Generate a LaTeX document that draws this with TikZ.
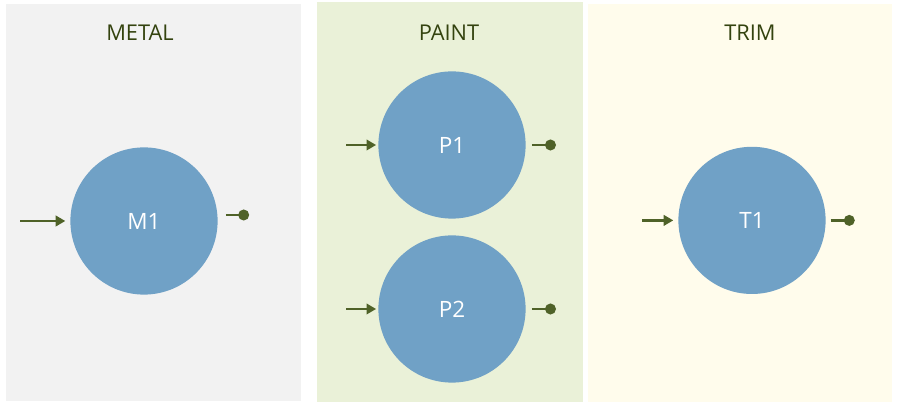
\documentclass[tikz,border=0pt]{standalone}
\usepackage{fontspec}
\setmainfont{Open Sans}
\usepackage{xcolor}
\usetikzlibrary{arrows.meta}

\definecolor{metalbg}{HTML}{F2F2F2}
\definecolor{paintbg}{HTML}{EAF1D8}
\definecolor{trimbg}{HTML}{FFFCEC}
\definecolor{stationblue}{HTML}{70A1C6}
\definecolor{olive}{HTML}{4F6228}
\definecolor{titleolive}{HTML}{34430F}

\begin{document}
\begin{tikzpicture}[
    panel/.style={fill=#1, draw=none},
    title/.style={text=titleolive, font=\fontsize{15.5}{18}\selectfont},
    station/.style={circle, fill=stationblue, draw=none, minimum size=3.68cm,
        inner sep=0pt, text=white, font=\fontsize{16}{18}\selectfont},
    feed/.style={olive, line width=2.1pt, -{Triangle[length=2.4mm,width=2.6mm]}},
    exit/.style={olive, line width=2.1pt, -{Circle[length=2.7mm]}}
]
        \useasboundingbox (0,0) rectangle (22.45,10.2);

        % departments
        \fill[panel=metalbg] (0.15,0.175) rectangle (7.525,10.1);
        \fill[panel=paintbg] (7.925,0.15) rectangle (14.575,10.15);
        \fill[panel=trimbg] (14.7,0.15) rectangle (22.3,10.1);

        \node[title] (metal) at (3.5,9.375) {METAL};
        \node[title] (paint) at (11.225,9.375) {PAINT};
        \node[title] (trim) at (18.75,9.375) {TRIM};

        % stations
        \node[station] (m1) at (3.6,4.675) {M1};
        \node[station] (p1) at (11.3,6.575) {P1};
        \node[station] (p2) at (11.3,2.475) {P2};
        \node[station] (t1) at (18.8,4.69) {T1};

        % inputs and outputs
        \coordinate (m1in) at ([xshift=-1.25cm]m1.west);
        \coordinate (p1in) at ([xshift=-0.8cm]p1.west);
        \coordinate (p2in) at ([xshift=-0.8cm]p2.west);
        \coordinate (t1in) at ([xshift=-0.9cm]t1.west);
        \coordinate (m1out) at ([xshift=0.78cm,yshift=0.15cm]m1.east);
        \coordinate (p1out) at ([xshift=0.75cm]p1.east);
        \coordinate (p2out) at ([xshift=0.75cm]p2.east);
        \coordinate (t1out) at ([xshift=0.72cm]t1.east);

        \draw[feed, shorten >=0.12cm] (m1in) -- (m1.west);
        \draw[feed, shorten >=0.05cm] (p1in) -- (p1.west);
        \draw[feed, shorten >=0.05cm] (p2in) -- (p2.west);
        \draw[feed, shorten >=0.12cm] (t1in) -- (t1.west);

        \draw[exit, shorten <=0.2cm] ([yshift=0.15cm]m1.east) -- (m1out);
        \draw[exit, shorten <=0.15cm] (p1.east) -- (p1out);
        \draw[exit, shorten <=0.15cm] (p2.east) -- (p2out);
        \draw[exit, shorten <=0.12cm] (t1.east) -- (t1out);
    \end{tikzpicture}
\end{document}
